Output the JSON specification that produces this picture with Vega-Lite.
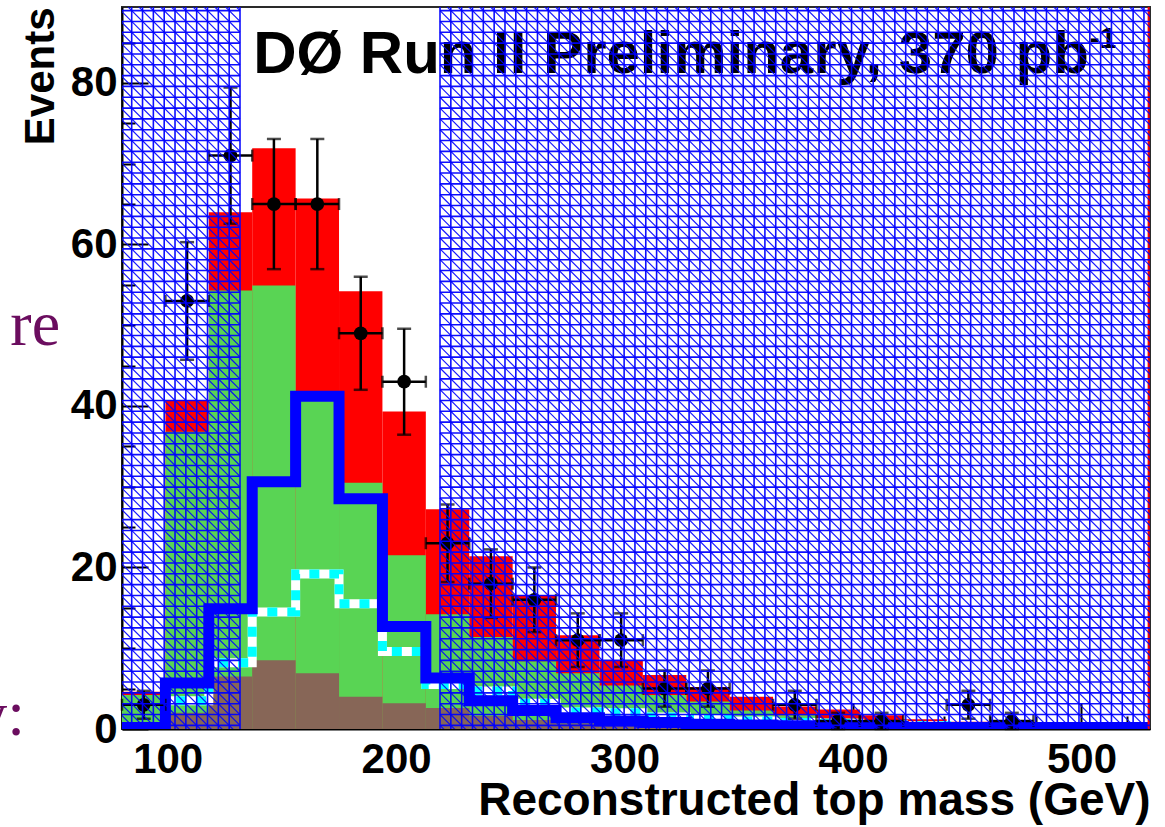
{
  "$schema": "https://vega.github.io/schema/vega-lite/v6.json",
  "width": 1028,
  "height": 722,
  "autosize": "none",
  "padding": {"left": 122, "top": 7, "right": 15, "bottom": 98},
  "background": "white",
  "config": {
    "view": {"stroke": "#2a2a2a", "strokeWidth": 2},
    "font": "Liberation Sans",
    "axis": {
      "labelFont": "Liberation Sans", "labelFontWeight": "bold", "labelFontSize": 42, "labelColor": "#000",
      "titleFont": "Liberation Sans", "titleFontWeight": "bold", "titleFontSize": 46, "titleColor": "#000",
      "domainColor": "#000", "domainWidth": 2, "tickColor": "#000", "tickWidth": 2,
      "grid": false, "labelOverlap": false, "labelFlush": false, "zindex": 1
    }
  },
  "datasets": {
    "bins": [
      {"lo": 80, "hi": 99, "lower": 0.5, "middle": 4.2, "total": 4.6},
      {"lo": 99, "hi": 118, "lower": 2.0, "middle": 36.8, "total": 40.7},
      {"lo": 118, "hi": 137, "lower": 6.5, "middle": 54.3, "total": 64.0},
      {"lo": 137, "hi": 156, "lower": 8.5, "middle": 54.9, "total": 71.9},
      {"lo": 156, "hi": 175, "lower": 6.9, "middle": 41.2, "total": 65.7},
      {"lo": 175, "hi": 194, "lower": 4.0, "middle": 30.5, "total": 54.2},
      {"lo": 194, "hi": 213, "lower": 3.2, "middle": 21.5, "total": 39.3},
      {"lo": 213, "hi": 232, "lower": 2.6, "middle": 14.2, "total": 27.2},
      {"lo": 232, "hi": 251, "lower": 1.6, "middle": 11.4, "total": 21.4},
      {"lo": 251, "hi": 270, "lower": 1.1, "middle": 8.4, "total": 16.6},
      {"lo": 270, "hi": 289, "lower": 0.7, "middle": 6.9, "total": 11.6},
      {"lo": 289, "hi": 308, "lower": 0.5, "middle": 5.4, "total": 8.5},
      {"lo": 308, "hi": 327, "lower": 0.4, "middle": 4.2, "total": 6.7},
      {"lo": 327, "hi": 346, "lower": 0.3, "middle": 3.4, "total": 5.2},
      {"lo": 346, "hi": 365, "lower": 0.2, "middle": 2.3, "total": 4.0},
      {"lo": 365, "hi": 384, "lower": 0.2, "middle": 1.7, "total": 2.8},
      {"lo": 384, "hi": 403, "lower": 0.1, "middle": 1.3, "total": 2.4},
      {"lo": 403, "hi": 422, "lower": 0.1, "middle": 0.9, "total": 1.7},
      {"lo": 422, "hi": 441, "lower": 0.1, "middle": 0.7, "total": 1.2},
      {"lo": 441, "hi": 460, "lower": 0, "middle": 0.5, "total": 0.9},
      {"lo": 460, "hi": 479, "lower": 0, "middle": 0.4, "total": 0.8},
      {"lo": 479, "hi": 498, "lower": 0, "middle": 0.3, "total": 0.6},
      {"lo": 498, "hi": 517, "lower": 0, "middle": 0.3, "total": 0.5},
      {"lo": 517, "hi": 536, "lower": 0, "middle": 0.2, "total": 0.4}
    ],
    "blue": [
      {"edge": 80, "n": 0.2}, {"edge": 99, "n": 5.7}, {"edge": 118, "n": 14.9}, {"edge": 137, "n": 30.6},
      {"edge": 156, "n": 41.2}, {"edge": 175, "n": 28.5}, {"edge": 194, "n": 12.7}, {"edge": 213, "n": 6.3},
      {"edge": 232, "n": 3.5}, {"edge": 251, "n": 2.3}, {"edge": 270, "n": 1.4}, {"edge": 289, "n": 1.0},
      {"edge": 308, "n": 0.8}, {"edge": 327, "n": 0.6}, {"edge": 346, "n": 0.5}, {"edge": 365, "n": 0.4},
      {"edge": 384, "n": 0.3}, {"edge": 403, "n": 0.3}, {"edge": 422, "n": 0.2}, {"edge": 441, "n": 0.2},
      {"edge": 460, "n": 0.2}, {"edge": 479, "n": 0.2}, {"edge": 498, "n": 0.2}, {"edge": 517, "n": 0.2},
      {"edge": 536, "n": 0.2}
    ],
    "cyan": [
      {"edge": 80, "n": 0.3}, {"edge": 99, "n": 3.5}, {"edge": 118, "n": 8.2}, {"edge": 137, "n": 14.5},
      {"edge": 156, "n": 19.2}, {"edge": 175, "n": 15.5}, {"edge": 194, "n": 9.6}, {"edge": 213, "n": 5.5},
      {"edge": 232, "n": 4.7}, {"edge": 251, "n": 3.2}, {"edge": 270, "n": 2.1}, {"edge": 289, "n": 2.0},
      {"edge": 308, "n": 1.5}, {"edge": 327, "n": 1.2}, {"edge": 346, "n": 1.0}, {"edge": 365, "n": 0.8},
      {"edge": 384, "n": 0.7}, {"edge": 403, "n": 0.5}, {"edge": 422, "n": 0.4}, {"edge": 441, "n": 0.3},
      {"edge": 460, "n": 0.3}, {"edge": 479, "n": 0.2}, {"edge": 498, "n": 0.2}, {"edge": 517, "n": 0.2},
      {"edge": 536, "n": 0.2}
    ],
    "observed": [
      {"m": 89.5, "lo": 80, "hi": 99, "n": 3, "err": 1.73},
      {"m": 108.5, "lo": 99, "hi": 118, "n": 53, "err": 7.28},
      {"m": 127.5, "lo": 118, "hi": 137, "n": 71, "err": 8.43},
      {"m": 146.5, "lo": 137, "hi": 156, "n": 65, "err": 8.06},
      {"m": 165.5, "lo": 156, "hi": 175, "n": 65, "err": 8.06},
      {"m": 184.5, "lo": 175, "hi": 194, "n": 49, "err": 7.0},
      {"m": 203.5, "lo": 194, "hi": 213, "n": 43, "err": 6.56},
      {"m": 222.5, "lo": 213, "hi": 232, "n": 23, "err": 4.8},
      {"m": 241.5, "lo": 232, "hi": 251, "n": 18, "err": 4.24},
      {"m": 260.5, "lo": 251, "hi": 270, "n": 16, "err": 4.0},
      {"m": 279.5, "lo": 270, "hi": 289, "n": 11, "err": 3.32},
      {"m": 298.5, "lo": 289, "hi": 308, "n": 11, "err": 3.32},
      {"m": 317.5, "lo": 308, "hi": 327, "n": 5, "err": 2.24},
      {"m": 336.5, "lo": 327, "hi": 346, "n": 5, "err": 2.24},
      {"m": 374.5, "lo": 365, "hi": 384, "n": 3, "err": 1.73},
      {"m": 393.5, "lo": 384, "hi": 403, "n": 1, "err": 1.0},
      {"m": 412.5, "lo": 403, "hi": 422, "n": 1, "err": 1.0},
      {"m": 450.5, "lo": 441, "hi": 460, "n": 3, "err": 1.73},
      {"m": 469.5, "lo": 460, "hi": 479, "n": 1, "err": 1.0}
    ]
  },
  "layer": [
    {
      "data": {"values": [{}]},
      "mark": {"type": "text", "text": "DØ Run II Preliminary, 370 pb", "font": "Liberation Sans", "fontWeight": "bold", "fontSize": 60, "align": "left", "baseline": "alphabetic", "color": "#000"},
      "encoding": {
        "x": {"datum": 137.4, "type": "quantitative", "scale": {"domain": [80, 530], "nice": false, "zero": false}, "title": "Reconstructed top mass (GeV)"},
        "y": {"datum": 81.2, "type": "quantitative", "scale": {"domain": [0, 89.4], "nice": false}, "title": "Events"}
      }
    },
    {
      "data": {"values": [{}]},
      "mark": {"type": "text", "text": "-1", "font": "Liberation Sans", "fontWeight": "bold", "fontSize": 30, "align": "left", "baseline": "alphabetic", "color": "#000"},
      "encoding": {
        "x": {"datum": 503.5, "type": "quantitative", "title": "Reconstructed top mass (GeV)"},
        "y": {"datum": 84.3, "type": "quantitative", "title": "Events"}
      }
    },
    {
      "data": {"name": "bins"},
      "mark": {"type": "bar", "clip": true, "color": "#ff0000"},
      "encoding": {
        "x": {
          "field": "lo", "type": "quantitative",
          "scale": {"domain": [80, 530], "nice": false, "zero": false},
          "title": "Reconstructed top mass (GeV)",
          "axis": {
            "values": [100, 120, 140, 160, 180, 200, 220, 240, 260, 280, 300, 320, 340, 360, 380, 400, 420, 440, 460, 480, 500, 520],
            "labelExpr": "datum.value % 100 === 0 ? datum.label : ''",
            "tickSize": {"condition": {"test": "datum.value % 100 === 0", "value": -26}, "value": -13},
            "labelPadding": 36,
            "titleAnchor": "end",
            "titlePadding": -15
          }
        },
        "x2": {"field": "hi"},
        "y": {
          "field": "total", "type": "quantitative",
          "scale": {"domain": [0, 89.4], "nice": false},
          "title": "Events",
          "axis": {
            "values": [0, 5, 10, 15, 20, 25, 30, 35, 40, 45, 50, 55, 60, 65, 70, 75, 80, 85],
            "labelExpr": "datum.value % 20 === 0 ? datum.label : ''",
            "tickSize": {"condition": {"test": "datum.value % 20 === 0", "value": -26}, "value": -13},
            "labelPadding": 31,
            "titleAnchor": "end",
            "titleFontSize": 42,
            "titlePadding": 8
          }
        },
        "y2": {"datum": 0}
      }
    },
    {
      "data": {"name": "bins"},
      "mark": {"type": "bar", "clip": true, "color": "#59d454"},
      "encoding": {
        "x": {"field": "lo", "type": "quantitative", "title": "Reconstructed top mass (GeV)"},
        "x2": {"field": "hi"},
        "y": {"field": "middle", "type": "quantitative", "title": "Events"},
        "y2": {"datum": 0}
      }
    },
    {
      "data": {"name": "bins"},
      "mark": {"type": "bar", "clip": true, "color": "#876657"},
      "encoding": {
        "x": {"field": "lo", "type": "quantitative", "title": "Reconstructed top mass (GeV)"},
        "x2": {"field": "hi"},
        "y": {"field": "lower", "type": "quantitative", "title": "Events"},
        "y2": {"datum": 0}
      }
    },
    {
      "data": {"name": "cyan"},
      "mark": {"type": "line", "interpolate": "step-after", "color": "#ffffff", "strokeWidth": 9, "clip": true},
      "encoding": {"x": {"field": "edge", "type": "quantitative", "title": "Reconstructed top mass (GeV)"}, "y": {"field": "n", "type": "quantitative", "title": "Events"}}
    },
    {
      "data": {"name": "cyan"},
      "mark": {"type": "line", "interpolate": "step-after", "color": "#00ffff", "strokeWidth": 9, "strokeDash": [10, 10], "clip": true},
      "encoding": {"x": {"field": "edge", "type": "quantitative", "title": "Reconstructed top mass (GeV)"}, "y": {"field": "n", "type": "quantitative", "title": "Events"}}
    },
    {
      "data": {"name": "blue"},
      "mark": {"type": "line", "interpolate": "step-after", "color": "#0000ff", "strokeWidth": 11, "clip": true},
      "encoding": {"x": {"field": "edge", "type": "quantitative", "title": "Reconstructed top mass (GeV)"}, "y": {"field": "n", "type": "quantitative", "title": "Events"}}
    },
    {
      "data": {"name": "observed"},
      "mark": {"type": "errorbar", "color": "#000", "rule": {"strokeWidth": 2.5}, "ticks": {"size": 12, "thickness": 2.5}},
      "encoding": {
        "x": {"field": "lo", "type": "quantitative", "title": "Reconstructed top mass (GeV)"},
        "x2": {"field": "hi"},
        "y": {"field": "n", "type": "quantitative", "title": "Events"}
      }
    },
    {
      "data": {"name": "observed"},
      "mark": {"type": "errorbar", "color": "#000", "rule": {"strokeWidth": 2.5}, "ticks": {"size": 14, "thickness": 2.5}},
      "encoding": {
        "x": {"field": "m", "type": "quantitative", "title": "Reconstructed top mass (GeV)"},
        "y": {"field": "n", "type": "quantitative", "title": "Events"},
        "yError": {"field": "err"}
      }
    },
    {
      "data": {"name": "observed"},
      "mark": {"type": "point", "shape": "circle", "filled": true, "color": "#000", "size": 190, "opacity": 1},
      "encoding": {"x": {"field": "m", "type": "quantitative", "title": "Reconstructed top mass (GeV)"}, "y": {"field": "n", "type": "quantitative", "title": "Events"}}
    },
    {
      "data": {"values": [{}]},
      "mark": {"type": "rule", "color": "#ff0000", "strokeWidth": 2},
      "encoding": {"x": {"datum": 529.4, "type": "quantitative"}}
    },
    {
      "data": {"values": [{}]},
      "mark": {
        "type": "point", "filled": false, "stroke": "#0000ff", "strokeWidth": 1.6, "strokeOpacity": 0.95, "opacity": 1, "size": 521284, "clip": true,
        "shape": "M-0.12,-1.02v2.04m0.03,-2.04v2.04m0.03,-2.04v2.04m0.03,-2.04v2.04m0.03,-2.04v2.04m0.03,-2.04v2.04m0.03,-2.04v2.04m0.03,-2.04v2.04m0.03,-2.04v2.04m0.03,-2.04v2.04m0.03,-2.04v2.04M-0.16,-0.99h0.34m-0.34,0.03h0.34m-0.34,0.03h0.34m-0.34,0.03h0.34m-0.34,0.03h0.34m-0.34,0.03h0.34m-0.34,0.03h0.34m-0.34,0.03h0.34m-0.34,0.03h0.34m-0.34,0.03h0.34m-0.34,0.03h0.34m-0.34,0.03h0.34m-0.34,0.03h0.34m-0.34,0.03h0.34m-0.34,0.03h0.34m-0.34,0.03h0.34m-0.34,0.03h0.34m-0.34,0.03h0.34m-0.34,0.03h0.34m-0.34,0.03h0.34m-0.34,0.03h0.34m-0.34,0.03h0.34m-0.34,0.03h0.34m-0.34,0.03h0.34m-0.34,0.03h0.34m-0.34,0.03h0.34m-0.34,0.03h0.34m-0.34,0.03h0.34m-0.34,0.03h0.34m-0.34,0.03h0.34m-0.34,0.03h0.34m-0.34,0.03h0.34m-0.34,0.03h0.34m-0.34,0.03h0.34m-0.34,0.03h0.34m-0.34,0.03h0.34m-0.34,0.03h0.34m-0.34,0.03h0.34m-0.34,0.03h0.34m-0.34,0.03h0.34m-0.34,0.03h0.34m-0.34,0.03h0.34m-0.34,0.03h0.34m-0.34,0.03h0.34m-0.34,0.03h0.34m-0.34,0.03h0.34m-0.34,0.03h0.34m-0.34,0.03h0.34m-0.34,0.03h0.34m-0.34,0.03h0.34m-0.34,0.03h0.34m-0.34,0.03h0.34m-0.34,0.03h0.34m-0.34,0.03h0.34m-0.34,0.03h0.34m-0.34,0.03h0.34m-0.34,0.03h0.34m-0.34,0.03h0.34m-0.34,0.03h0.34m-0.34,0.03h0.34m-0.34,0.03h0.34m-0.34,0.03h0.34m-0.34,0.03h0.34m-0.34,0.03h0.34m-0.34,0.03h0.34m-0.34,0.03h0.34m-0.34,0.03h0.34m-0.34,0.03h0.34m-0.34,0.03h0.34m-0.34,0.03h0.34m-0.34,0.03h0.34"
      },
      "encoding": {"x": {"datum": 103.21, "type": "quantitative"}, "y": {"datum": 44.7, "type": "quantitative"}}
    },
    {
      "data": {"values": [{}]},
      "mark": {
        "type": "point", "filled": false, "stroke": "#0000ff", "strokeWidth": 1.2, "strokeOpacity": 0.9, "opacity": 1, "size": 521284, "clip": true,
        "shape": "M-0.16,-1.33l0.34,0.34m-0.34,-0.31l0.34,0.34m-0.34,-0.31l0.34,0.34m-0.34,-0.31l0.34,0.34m-0.34,-0.31l0.34,0.34m-0.34,-0.31l0.34,0.34m-0.34,-0.31l0.34,0.34m-0.34,-0.31l0.34,0.34m-0.34,-0.31l0.34,0.34m-0.34,-0.31l0.34,0.34m-0.34,-0.31l0.34,0.34m-0.34,-0.31l0.34,0.34m-0.34,-0.31l0.34,0.34m-0.34,-0.31l0.34,0.34m-0.34,-0.31l0.34,0.34m-0.34,-0.31l0.34,0.34m-0.34,-0.31l0.34,0.34m-0.34,-0.31l0.34,0.34m-0.34,-0.31l0.34,0.34m-0.34,-0.31l0.34,0.34m-0.34,-0.31l0.34,0.34m-0.34,-0.31l0.34,0.34m-0.34,-0.31l0.34,0.34m-0.34,-0.31l0.34,0.34m-0.34,-0.31l0.34,0.34m-0.34,-0.31l0.34,0.34m-0.34,-0.31l0.34,0.34m-0.34,-0.31l0.34,0.34m-0.34,-0.31l0.34,0.34m-0.34,-0.31l0.34,0.34m-0.34,-0.31l0.34,0.34m-0.34,-0.31l0.34,0.34m-0.34,-0.31l0.34,0.34m-0.34,-0.31l0.34,0.34m-0.34,-0.31l0.34,0.34m-0.34,-0.31l0.34,0.34m-0.34,-0.31l0.34,0.34m-0.34,-0.31l0.34,0.34m-0.34,-0.31l0.34,0.34m-0.34,-0.31l0.34,0.34m-0.34,-0.31l0.34,0.34m-0.34,-0.31l0.34,0.34m-0.34,-0.31l0.34,0.34m-0.34,-0.31l0.34,0.34m-0.34,-0.31l0.34,0.34m-0.34,-0.31l0.34,0.34m-0.34,-0.31l0.34,0.34m-0.34,-0.31l0.34,0.34m-0.34,-0.31l0.34,0.34m-0.34,-0.31l0.34,0.34m-0.34,-0.31l0.34,0.34m-0.34,-0.31l0.34,0.34m-0.34,-0.31l0.34,0.34m-0.34,-0.31l0.34,0.34m-0.34,-0.31l0.34,0.34m-0.34,-0.31l0.34,0.34m-0.34,-0.31l0.34,0.34m-0.34,-0.31l0.34,0.34m-0.34,-0.31l0.34,0.34m-0.34,-0.31l0.34,0.34m-0.34,-0.31l0.34,0.34m-0.34,-0.31l0.34,0.34m-0.34,-0.31l0.34,0.34m-0.34,-0.31l0.34,0.34m-0.34,-0.31l0.34,0.34m-0.34,-0.31l0.34,0.34m-0.34,-0.31l0.34,0.34m-0.34,-0.31l0.34,0.34m-0.34,-0.31l0.34,0.34m-0.34,-0.31l0.34,0.34m-0.34,-0.31l0.34,0.34m-0.34,-0.31l0.34,0.34m-0.34,-0.31l0.34,0.34m-0.34,-0.31l0.34,0.34m-0.34,-0.31l0.34,0.34m-0.34,-0.31l0.34,0.34m-0.34,-0.31l0.34,0.34m-0.34,-0.31l0.34,0.34"
      },
      "encoding": {"x": {"datum": 103.21, "type": "quantitative"}, "y": {"datum": 44.7, "type": "quantitative"}}
    },
    {
      "data": {"values": [{}]},
      "mark": {
        "type": "point", "filled": false, "stroke": "#0000ff", "strokeWidth": 1.6, "strokeOpacity": 0.95, "opacity": 1, "size": 521284, "clip": true,
        "shape": "M-0.99,-1.02v2.04m0.03,-2.04v2.04m0.03,-2.04v2.04m0.03,-2.04v2.04m0.03,-2.04v2.04m0.03,-2.04v2.04m0.03,-2.04v2.04m0.03,-2.04v2.04m0.03,-2.04v2.04m0.03,-2.04v2.04m0.03,-2.04v2.04m0.03,-2.04v2.04m0.03,-2.04v2.04m0.03,-2.04v2.04m0.03,-2.04v2.04m0.03,-2.04v2.04m0.03,-2.04v2.04m0.03,-2.04v2.04m0.03,-2.04v2.04m0.03,-2.04v2.04m0.03,-2.04v2.04m0.03,-2.04v2.04m0.03,-2.04v2.04m0.03,-2.04v2.04m0.03,-2.04v2.04m0.03,-2.04v2.04m0.03,-2.04v2.04m0.03,-2.04v2.04m0.03,-2.04v2.04m0.03,-2.04v2.04m0.03,-2.04v2.04m0.03,-2.04v2.04m0.03,-2.04v2.04m0.03,-2.04v2.04m0.03,-2.04v2.04m0.03,-2.04v2.04m0.03,-2.04v2.04m0.03,-2.04v2.04m0.03,-2.04v2.04m0.03,-2.04v2.04m0.03,-2.04v2.04m0.03,-2.04v2.04m0.03,-2.04v2.04m0.03,-2.04v2.04m0.03,-2.04v2.04m0.03,-2.04v2.04m0.03,-2.04v2.04m0.03,-2.04v2.04m0.03,-2.04v2.04m0.03,-2.04v2.04m0.03,-2.04v2.04m0.03,-2.04v2.04m0.03,-2.04v2.04m0.03,-2.04v2.04m0.03,-2.04v2.04m0.03,-2.04v2.04m0.03,-2.04v2.04m0.03,-2.04v2.04m0.03,-2.04v2.04m0.03,-2.04v2.04m0.03,-2.04v2.04m0.03,-2.04v2.04m0.03,-2.04v2.04m0.03,-2.04v2.04m0.03,-2.04v2.04m0.03,-2.04v2.04m0.03,-2.04v2.04m0.03,-2.04v2.04m0.03,-2.04v2.04m0.03,-2.04v2.04m0.03,-2.04v2.04M-0.99,-0.99h2m-2,0.03h2m-2,0.03h2m-2,0.03h2m-2,0.03h2m-2,0.03h2m-2,0.03h2m-2,0.03h2m-2,0.03h2m-2,0.03h2m-2,0.03h2m-2,0.03h2m-2,0.03h2m-2,0.03h2m-2,0.03h2m-2,0.03h2m-2,0.03h2m-2,0.03h2m-2,0.03h2m-2,0.03h2m-2,0.03h2m-2,0.03h2m-2,0.03h2m-2,0.03h2m-2,0.03h2m-2,0.03h2m-2,0.03h2m-2,0.03h2m-2,0.03h2m-2,0.03h2m-2,0.03h2m-2,0.03h2m-2,0.03h2m-2,0.03h2m-2,0.03h2m-2,0.03h2m-2,0.03h2m-2,0.03h2m-2,0.03h2m-2,0.03h2m-2,0.03h2m-2,0.03h2m-2,0.03h2m-2,0.03h2m-2,0.03h2m-2,0.03h2m-2,0.03h2m-2,0.03h2m-2,0.03h2m-2,0.03h2m-2,0.03h2m-2,0.03h2m-2,0.03h2m-2,0.03h2m-2,0.03h2m-2,0.03h2m-2,0.03h2m-2,0.03h2m-2,0.03h2m-2,0.03h2m-2,0.03h2m-2,0.03h2m-2,0.03h2m-2,0.03h2m-2,0.03h2m-2,0.03h2m-2,0.03h2m-2,0.03h2m-2,0.03h2"
      },
      "encoding": {"x": {"datum": 375.65, "type": "quantitative"}, "y": {"datum": 44.7, "type": "quantitative"}}
    },
    {
      "data": {"values": [{}]},
      "mark": {
        "type": "point", "filled": false, "stroke": "#0000ff", "strokeWidth": 1.2, "strokeOpacity": 0.9, "opacity": 1, "size": 521284, "clip": true,
        "shape": "M-0.99,-2.97l1.99,1.99m-1.99,-1.96l1.99,1.99m-1.99,-1.96l1.99,1.99m-1.99,-1.96l1.99,1.99m-1.99,-1.96l1.99,1.99m-1.99,-1.96l1.99,1.99m-1.99,-1.96l1.99,1.99m-1.99,-1.96l1.99,1.99m-1.99,-1.96l1.99,1.99m-1.99,-1.96l1.99,1.99m-1.99,-1.96l1.99,1.99m-1.99,-1.96l1.99,1.99m-1.99,-1.96l1.99,1.99m-1.99,-1.96l1.99,1.99m-1.99,-1.96l1.99,1.99m-1.99,-1.96l1.99,1.99m-1.99,-1.96l1.99,1.99m-1.99,-1.96l1.99,1.99m-1.99,-1.96l1.99,1.99m-1.99,-1.96l1.99,1.99m-1.99,-1.96l1.99,1.99m-1.99,-1.96l1.99,1.99m-1.99,-1.96l1.99,1.99m-1.99,-1.96l1.99,1.99m-1.99,-1.96l1.99,1.99m-1.99,-1.96l1.99,1.99m-1.99,-1.96l1.99,1.99m-1.99,-1.96l1.99,1.99m-1.99,-1.96l1.99,1.99m-1.99,-1.96l1.99,1.99m-1.99,-1.96l1.99,1.99m-1.99,-1.96l1.99,1.99m-1.99,-1.96l1.99,1.99m-1.99,-1.96l1.99,1.99m-1.99,-1.96l1.99,1.99m-1.99,-1.96l1.99,1.99m-1.99,-1.96l1.99,1.99m-1.99,-1.96l1.99,1.99m-1.99,-1.96l1.99,1.99m-1.99,-1.96l1.99,1.99m-1.99,-1.96l1.99,1.99m-1.99,-1.96l1.99,1.99m-1.99,-1.96l1.99,1.99m-1.99,-1.96l1.99,1.99m-1.99,-1.96l1.99,1.99m-1.99,-1.96l1.99,1.99m-1.99,-1.96l1.99,1.99m-1.99,-1.96l1.99,1.99m-1.99,-1.96l1.99,1.99m-1.99,-1.96l1.99,1.99m-1.99,-1.96l1.99,1.99m-1.99,-1.96l1.99,1.99m-1.99,-1.96l1.99,1.99m-1.99,-1.96l1.99,1.99m-1.99,-1.96l1.99,1.99m-1.99,-1.96l1.99,1.99m-1.99,-1.96l1.99,1.99m-1.99,-1.96l1.99,1.99m-1.99,-1.96l1.99,1.99m-1.99,-1.96l1.99,1.99m-1.99,-1.96l1.99,1.99m-1.99,-1.96l1.99,1.99m-1.99,-1.96l1.99,1.99m-1.99,-1.96l1.99,1.99m-1.99,-1.96l1.99,1.99m-1.99,-1.96l1.99,1.99m-1.99,-1.96l1.99,1.99m-1.99,-1.96l1.99,1.99m-1.99,-1.96l1.99,1.99m-1.99,-1.96l1.99,1.99m-1.99,-1.96l1.99,1.99m-1.99,-1.96l1.99,1.99m-1.99,-1.96l1.99,1.99m-1.99,-1.96l1.99,1.99m-1.99,-1.96l1.99,1.99m-1.99,-1.96l1.99,1.99m-1.99,-1.96l1.99,1.99m-1.99,-1.96l1.99,1.99m-1.99,-1.96l1.99,1.99m-1.99,-1.96l1.99,1.99m-1.99,-1.96l1.99,1.99m-1.99,-1.96l1.99,1.99m-1.99,-1.96l1.99,1.99m-1.99,-1.96l1.99,1.99m-1.99,-1.96l1.99,1.99m-1.99,-1.96l1.99,1.99m-1.99,-1.96l1.99,1.99m-1.99,-1.96l1.99,1.99m-1.99,-1.96l1.99,1.99m-1.99,-1.96l1.99,1.99m-1.99,-1.96l1.99,1.99m-1.99,-1.96l1.99,1.99m-1.99,-1.96l1.99,1.99m-1.99,-1.96l1.99,1.99m-1.99,-1.96l1.99,1.99m-1.99,-1.96l1.99,1.99m-1.99,-1.96l1.99,1.99m-1.99,-1.96l1.99,1.99m-1.99,-1.96l1.99,1.99m-1.99,-1.96l1.99,1.99m-1.99,-1.96l1.99,1.99m-1.99,-1.96l1.99,1.99m-1.99,-1.96l1.99,1.99m-1.99,-1.96l1.99,1.99m-1.99,-1.96l1.99,1.99m-1.99,-1.96l1.99,1.99m-1.99,-1.96l1.99,1.99m-1.99,-1.96l1.99,1.99m-1.99,-1.96l1.99,1.99m-1.99,-1.96l1.99,1.99m-1.99,-1.96l1.99,1.99m-1.99,-1.96l1.99,1.99m-1.99,-1.96l1.99,1.99m-1.99,-1.96l1.99,1.99m-1.99,-1.96l1.99,1.99m-1.99,-1.96l1.99,1.99m-1.99,-1.96l1.99,1.99m-1.99,-1.96l1.99,1.99m-1.99,-1.96l1.99,1.99m-1.99,-1.96l1.99,1.99m-1.99,-1.96l1.99,1.99m-1.99,-1.96l1.99,1.99m-1.99,-1.96l1.99,1.99m-1.99,-1.96l1.99,1.99m-1.99,-1.96l1.99,1.99m-1.99,-1.96l1.99,1.99m-1.99,-1.96l1.99,1.99m-1.99,-1.96l1.99,1.99m-1.99,-1.96l1.99,1.99m-1.99,-1.96l1.99,1.99m-1.99,-1.96l1.99,1.99m-1.99,-1.96l1.99,1.99m-1.99,-1.96l1.99,1.99m-1.99,-1.96l1.99,1.99m-1.99,-1.96l1.99,1.99m-1.99,-1.96l1.99,1.99m-1.99,-1.96l1.99,1.99m-1.99,-1.96l1.99,1.99m-1.99,-1.96l1.99,1.99m-1.99,-1.96l1.99,1.99m-1.99,-1.96l1.99,1.99m-1.99,-1.96l1.99,1.99"
      },
      "encoding": {"x": {"datum": 375.65, "type": "quantitative"}, "y": {"datum": 44.7, "type": "quantitative"}}
    },
    {
      "data": {"values": [{}]},
      "mark": {"type": "text", "text": "re", "font": "Liberation Serif", "fontSize": 64, "align": "right", "baseline": "alphabetic", "color": "#6b0d5f"},
      "encoding": {"x": {"datum": 52.9, "type": "quantitative"}, "y": {"datum": 47.5, "type": "quantitative"}}
    },
    {
      "data": {"values": [{}]},
      "mark": {"type": "text", "text": "y:", "font": "Liberation Serif", "fontSize": 64, "align": "right", "baseline": "alphabetic", "color": "#6b0d5f"},
      "encoding": {"x": {"datum": 37.5, "type": "quantitative"}, "y": {"datum": -0.7, "type": "quantitative"}}
    }
  ]
}
